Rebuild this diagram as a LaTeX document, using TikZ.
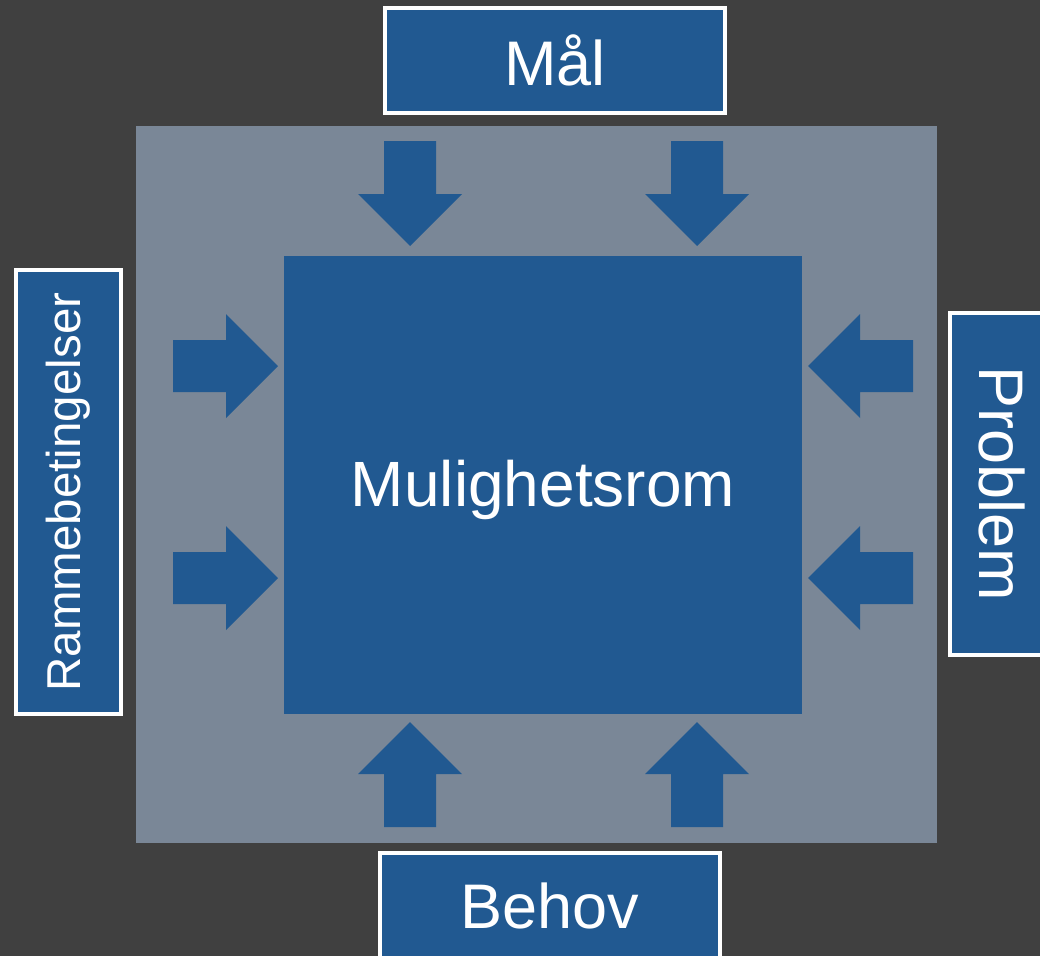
\documentclass[tikz,border=0pt]{standalone}
\usepackage{fontspec}
\setmainfont{Liberation Sans}
\definecolor{bgdark}{RGB}{64,64,64}
\definecolor{spacegray}{RGB}{122,135,151}
\definecolor{boxblue}{RGB}{33,89,145}

\begin{document}
\begin{tikzpicture}[x=1pt,y=-1pt,
  labelbox/.style={draw=white, line width=3.5pt, fill=boxblue, text=white,
    inner sep=0pt, font=\fontsize{63}{70}\selectfont},
  blockarrow/.style={fill=boxblue}]
\fill [bgdark] (0,0) rectangle (1040,956);
\useasboundingbox (0,0) rectangle (1040,956);
\clip (0,0) rectangle (1040,956);

\fill [spacegray] (136,126) rectangle (937,843);
\node [fill=boxblue, inner sep=0pt, minimum width=518pt, minimum height=458pt] (rom) at (543,485) {};
\node [text=white, inner sep=0pt, font=\fontsize{64}{70}\selectfont] (romlabel) at (543,490) {Mulighetsrom};

\node [labelbox, minimum width=340pt, minimum height=105pt] (maal) at (555,60.5) {Mål};
\node [labelbox, minimum width=340pt, minimum height=105pt] (behov) at (550,905.5) {Behov};
\node [labelbox, rotate=90, minimum width=444pt, minimum height=105pt,
  font=\fontsize{47.5}{52}\selectfont] (ramme) at (68.5,492) {Rammebetingelser};
\node [labelbox, rotate=-90, minimum width=342pt, minimum height=105pt] (problem) at (1002.5,484) {Problem};

% block arrows, tip at (\x,\y)
\foreach \x/\y/\r in {410/246/-90, 697/246/-90, 410/722/90, 697/722/90,
    278/366/0, 278/578/0, 808/366/180, 808/578/180}
  \fill [blockarrow, shift={(\x,\y)}, rotate=\r] (-105,-26) -- (-52,-26) -- (-52,-52)
    -- (0,0) -- (-52,52) -- (-52,26) -- (-105,26) -- cycle;
\end{tikzpicture}
\end{document}
